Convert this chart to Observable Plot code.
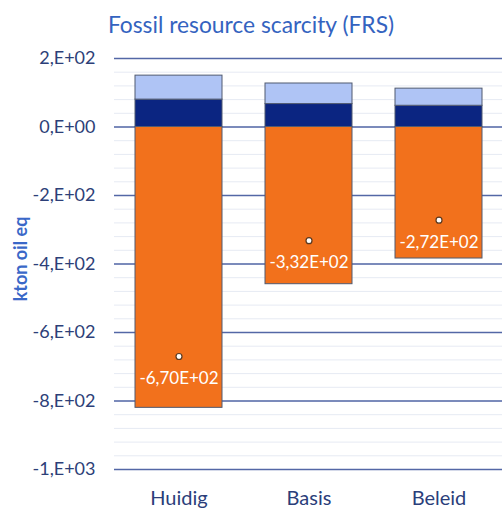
<!DOCTYPE html>
<html>
<head>
<meta charset="utf-8">
<script src="https://cdn.jsdelivr.net/npm/d3@7"></script>
<script src="https://cdn.jsdelivr.net/npm/@observablehq/plot@0.6"></script>
<style>
  html, body { margin: 0; padding: 0; background: #fff; overflow: hidden; }
  #title { height: 40px; line-height: 48px; text-align: center; font-family: Lato, sans-serif; font-size: 22.8px; color: #3463c0; white-space: nowrap; }
  svg { display: block; }
</style>
</head>
<body>
<div id="title">Fossil resource scarcity (FRS)</div>
<div id="chart"></div>
<script>
const scenarios = ["Huidig", "Basis", "Beleid"];
const series = ["Reeks 1", "Reeks 2", "Reeks 3"];
const seriesColors = ["#f2711c", "#0b2581", "#afc4f5"];
const valuesReeks1 = [-820, -459, -384];   // orange (negative)
const valuesReeks2 = [80, 67, 62];         // dark blue
const valuesReeks3 = [70, 60, 50];         // light blue
const netValues = [-670, -332, -272];
const netLabels = ["-6,70E+02", "-3,32E+02", "-2,72E+02"];
const yTicks = [200, 0, -200, -400, -600, -800, -1000];
const yTickLabels = ["2,E+02", "0,E+00", "-2,E+02", "-4,E+02", "-6,E+02", "-8,E+02", "-1,E+03"];

const rows = [];
scenarios.forEach((s, i) => {
  rows.push({scenario: s, series: series[0], value: valuesReeks1[i]});
  rows.push({scenario: s, series: series[1], value: valuesReeks2[i]});
  rows.push({scenario: s, series: series[2], value: valuesReeks3[i]});
});
const net = scenarios.map((s, i) => ({scenario: s, value: netValues[i], label: netLabels[i]}));
const minor = d3.range(-1000, 201, 40);
const labelOf = new Map(yTicks.map((t, i) => [t, yTickLabels[i]]));

const chart = Plot.plot({
  width: 502,
  height: 471,
  marginTop: 18,
  marginBottom: 42,
  marginLeft: 114,
  marginRight: 0,
  style: {fontFamily: "Lato, sans-serif", background: "#fff"},
  x: {domain: scenarios, range: [114, 504], paddingInner: 0.33, paddingOuter: 0.165, label: null},
  y: {domain: [-1000, 200], label: null},
  color: {domain: series, range: seriesColors},
  marks: [
    Plot.ruleY(minor, {stroke: "#e6eaf3", strokeWidth: 1}),
    Plot.ruleY(yTicks, {stroke: "#5367a6", strokeWidth: 1.4}),
    Plot.barY(rows, {x: "scenario", y: "value", fill: "series", order: series, stroke: "#515a70", strokeWidth: 1}),
    Plot.dot(net, {x: "scenario", y: "value", r: 3, fill: "#fff", stroke: "#5a3a22", strokeWidth: 1.2}),
    Plot.text(net, {x: "scenario", y: "value", text: "label", dy: 22, fill: "#fff", fontSize: 17}),
    Plot.axisY(yTicks, {tickSize: 0, tickPadding: 19, tickFormat: d => labelOf.get(d), fontSize: 18, color: "#2d3f78", label: null}),
    Plot.axisX({tickSize: 0, tickPadding: 21, fontSize: 20, color: "#2b3e7a", label: null}),
    Plot.text(["kton oil eq"], {frameAnchor: "left", textAnchor: "middle", dx: -93, dy: -5, rotate: -90, fontSize: 18, fontWeight: "bold", fill: "#3a68c8"})
  ]
});
document.getElementById("chart").appendChild(chart);
</script>
</body>
</html>
